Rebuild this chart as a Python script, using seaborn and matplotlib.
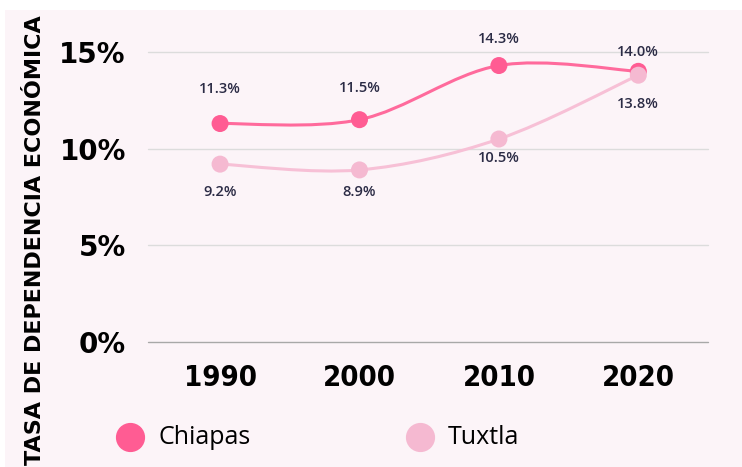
import numpy as np
import pandas as pd
import seaborn as sns
import matplotlib.pyplot as plt
from matplotlib.path import Path
from matplotlib.patches import PathPatch, Rectangle

years = ['1990', '2000', '2010', '2020']
chiapas = [11.3, 11.5, 14.3, 14.0]
tuxtla = [9.2, 8.9, 10.5, 13.8]
series_names = ['Chiapas', 'Tuxtla']
colors = {'Chiapas': '#ff5c93', 'Tuxtla': '#f5b9d1'}
line_colors = {'Chiapas': '#ff6a9c', 'Tuxtla': '#f7c0d6'}
y_ticks = [0, 5, 10, 15]

# label offsets in points (layout only)
chiapas_off = [25, 23, 19, 14]
tuxtla_off = [-20, -16, -14, -21]

df = pd.DataFrame({
    'year': years * 2,
    'pos': list(range(len(years))) * 2,
    'value': chiapas + tuxtla,
    'serie': ['Chiapas'] * len(years) + ['Tuxtla'] * len(years),
})

sns.set_style('white')
plt.rcParams['font.family'] = ['DejaVu Sans']

fig = plt.figure(figsize=(7.42, 4.67), dpi=100, facecolor='white')
fig.patches.append(Rectangle((5 / 742, 0), 1, 1 - 10 / 467, transform=fig.transFigure,
                             facecolor='#fcf4f8', edgecolor='none', zorder=-5))
ax = fig.add_axes([148 / 742, 1 - 342 / 467, (708 - 148) / 742, (342 - 52) / 467])
ax.set_facecolor('none')
ax.set_zorder(2)


def smooth_path(xs, ys):
    # catmull-rom style bezier through the points (drawing only)
    n = len(xs)
    verts = [(xs[0], ys[0])]
    codes = [Path.MOVETO]
    for i in range(n - 1):
        x0, y0 = xs[max(i - 1, 0)], ys[max(i - 1, 0)]
        x1, y1 = xs[i], ys[i]
        x2, y2 = xs[i + 1], ys[i + 1]
        x3, y3 = xs[min(i + 2, n - 1)], ys[min(i + 2, n - 1)]
        c1 = (x1 + (x2 - x0) / 6, y1 + (y2 - y0) / 6)
        c2 = (x2 - (x3 - x1) / 6, y2 - (y3 - y1) / 6)
        verts += [c1, c2, (x2, y2)]
        codes += [Path.CURVE4] * 3
    return Path(verts, codes)


for name in series_names:
    sub = df[df['serie'] == name]
    patch = PathPatch(smooth_path(sub['pos'].tolist(), sub['value'].tolist()),
                      facecolor='none', edgecolor=line_colors[name], lw=2.2,
                      zorder=2, capstyle='round')
    ax.add_patch(patch)

sns.scatterplot(data=df, x='pos', y='value', hue='serie', palette=colors,
                s=150, edgecolor='none', ax=ax, legend=False, zorder=3, clip_on=False)

# value labels
for vals, offs in [(chiapas, chiapas_off), (tuxtla, tuxtla_off)]:
    for i, v in enumerate(vals):
        ax.annotate(f'{v:.1f}%', (i, v), xytext=(0, offs[i]), textcoords='offset points',
                    ha='center', va='center', fontsize=10.5, color='#2b2b45',
                    family=['Open Sans', 'DejaVu Sans'], fontweight='semibold')

for t in y_ticks:
    ax.axhline(t, color='#a8a8a8' if t == 0 else '#dcdcdc', lw=1, zorder=1, clip_on=False)

ax.set_xlim(-0.517, 3.5)
ax.set_ylim(0, 15)
ax.set_xticks(range(len(years)))
ax.set_xticklabels(years)
ax.set_yticks(y_ticks)
ax.set_yticklabels([f'{t}%' for t in y_ticks])
ax.tick_params(axis='x', length=0, pad=16, labelsize=21)
ax.tick_params(axis='y', length=0, pad=16, labelsize=20)
for lab in ax.get_xticklabels():
    lab.set_fontweight('bold')
    lab.set_fontstretch('condensed')
    lab.set_color('black')
for lab in ax.get_yticklabels():
    lab.set_fontweight('bold')
    lab.set_color('black')
for sp in ax.spines.values():
    sp.set_visible(False)
ax.set_xlabel('')
ax.set_ylabel('')

fig.text(35 / 742, 1 - 240 / 467, 'TASA DE DEPENDENCIA ECONÓMICA', rotation=90,
         ha='center', va='center', fontsize=16, fontweight='bold', color='black')

# legend
leg_x = [130, 420]
for name, lx in zip(series_names, leg_x):
    fig.lines.append(plt.Line2D([lx / 742], [1 - 437 / 467], marker='o', markersize=20,
                                color=colors[name], lw=0, transform=fig.transFigure))
    fig.text((lx + 28) / 742, 1 - 437 / 467, name, ha='left', va='center',
             fontsize=18, color='black', family=['Open Sans', 'DejaVu Sans'])

fig.savefig('out.png', dpi=100, facecolor='white')
